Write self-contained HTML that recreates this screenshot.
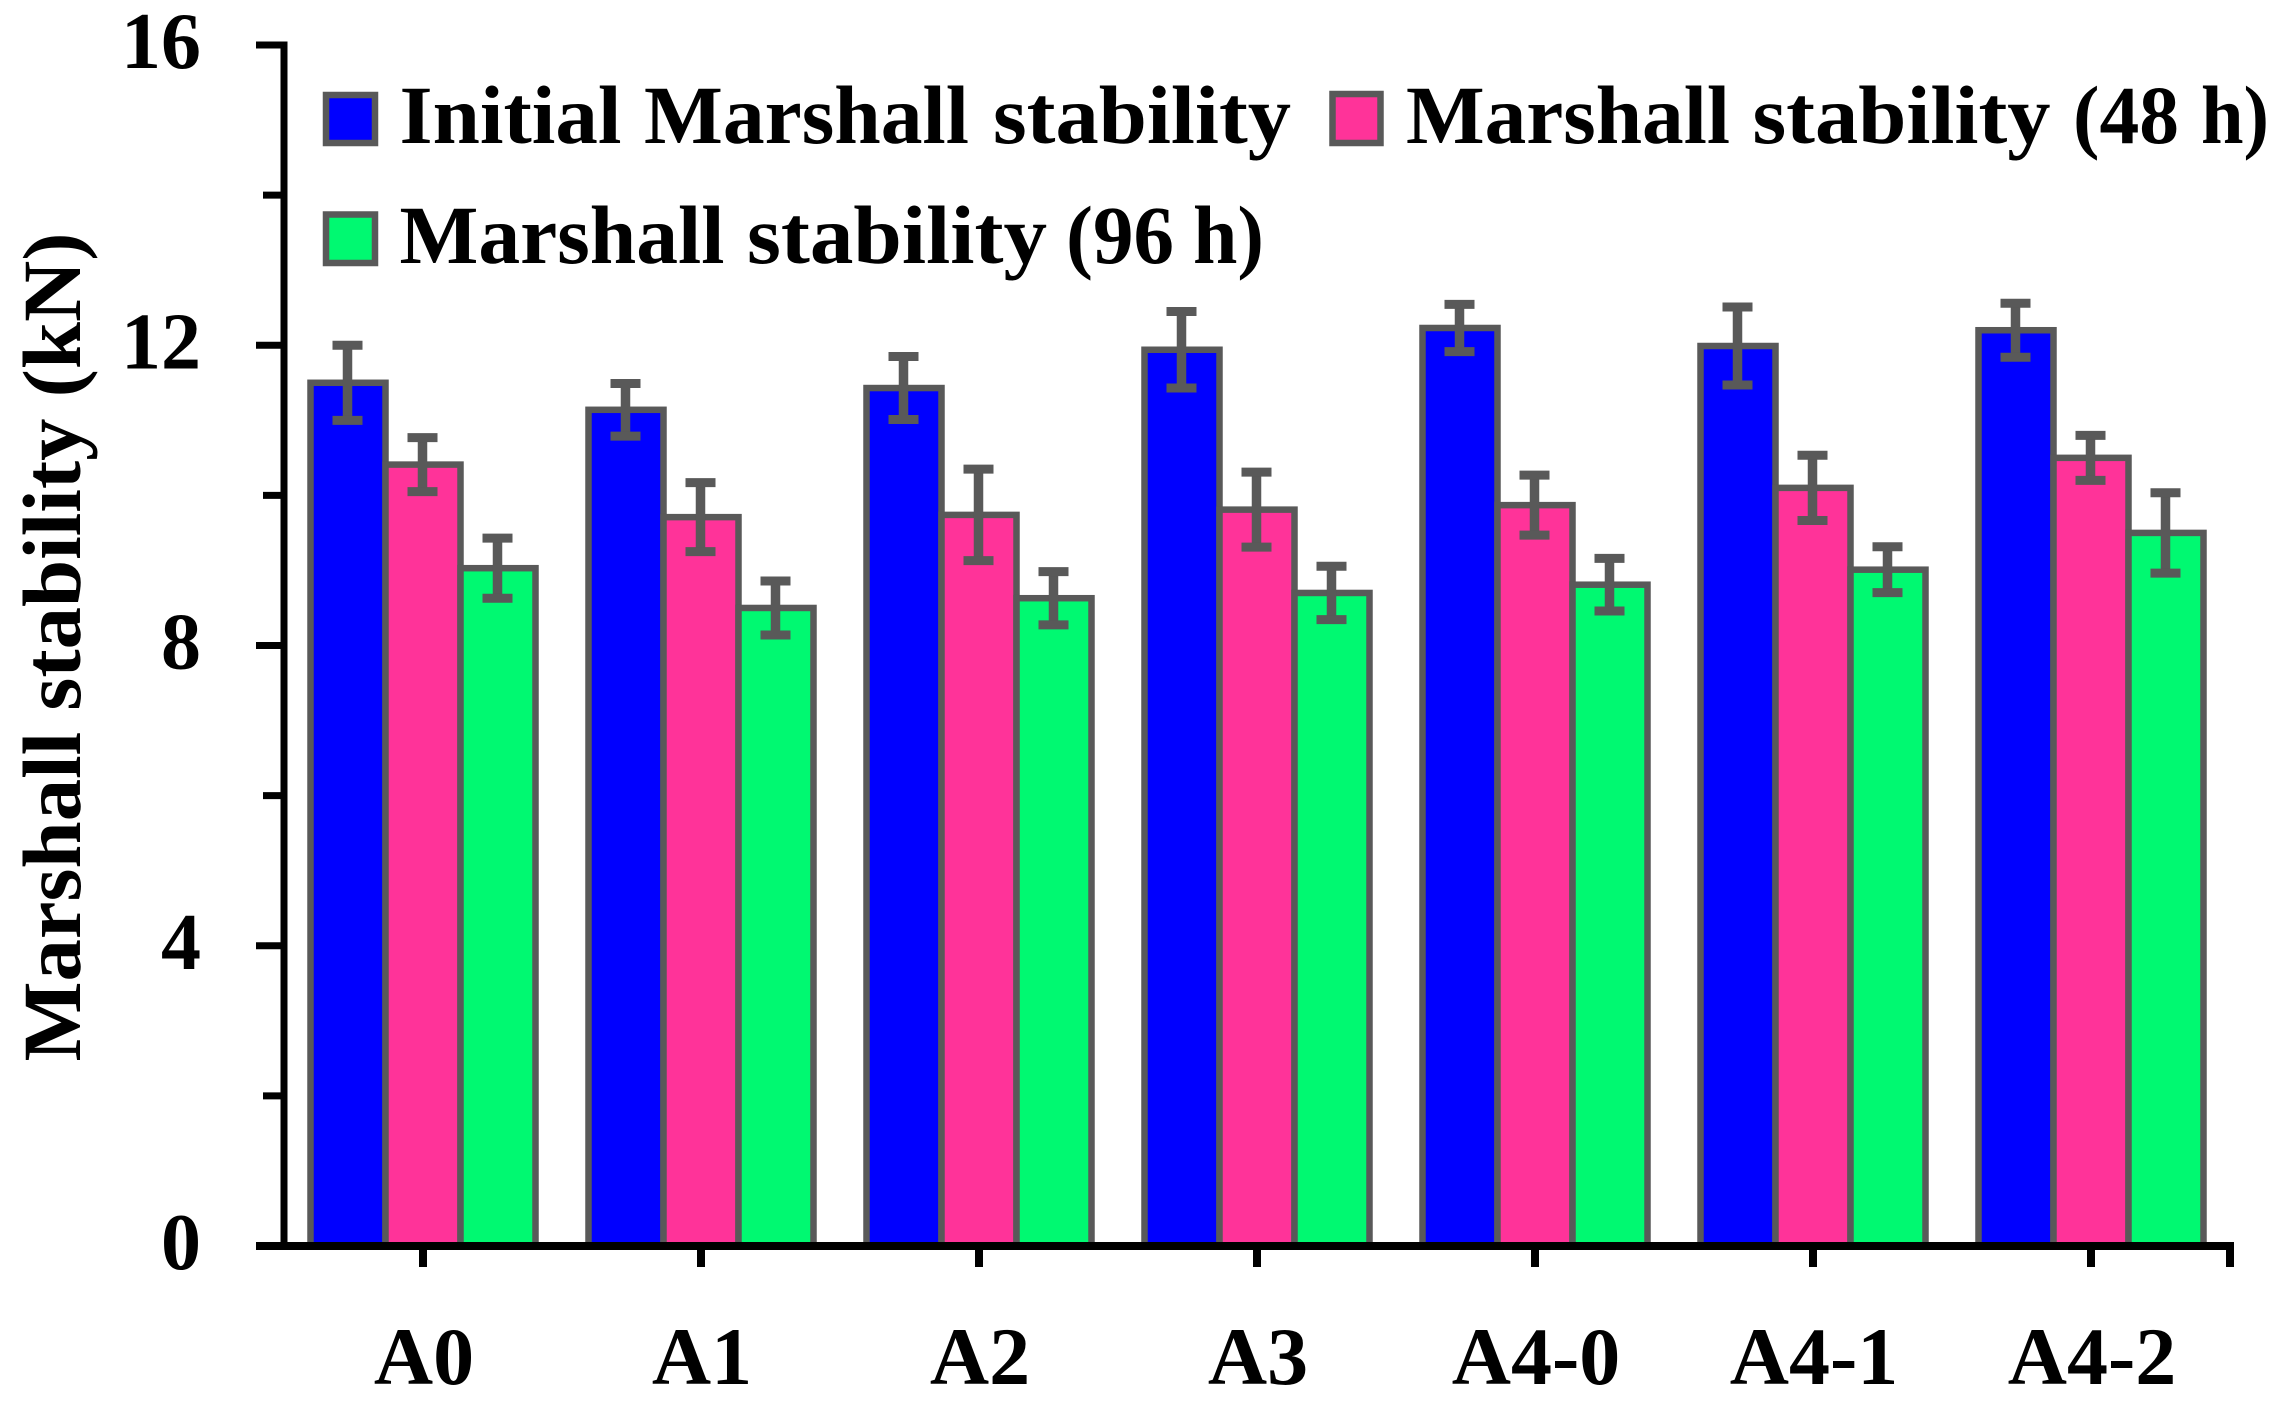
<!DOCTYPE html>
<html lang="en">
<head>
<meta charset="utf-8">
<title>Marshall stability chart</title>
<style>
  html, body { margin: 0; padding: 0; background: #fff; }
  svg { display: block; }
  text { font-family: "Liberation Serif", "Times New Roman", serif; font-weight: bold; fill: #000; }
</style>
</head>
<body>
<svg id="chart" xmlns="http://www.w3.org/2000/svg" width="2291" height="1410" viewBox="0 0 2291 1410">
  <rect x="0" y="0" width="2291" height="1410" fill="#ffffff"/>
  <g id="bars"></g>
  <g id="errors"></g>
  <g id="axes"></g>
  <g>
    <g>
      <rect x="326" y="95" width="49" height="48" fill="#0000ff" stroke="#595959" stroke-width="6.500"/>
      <text y="143" font-size="83"><tspan x="399.500" textLength="222" lengthAdjust="spacingAndGlyphs">Initial</tspan> <tspan x="644" textLength="325" lengthAdjust="spacingAndGlyphs">Marshall</tspan> <tspan x="993" textLength="298" lengthAdjust="spacingAndGlyphs">stability</tspan></text>
    </g>
    <g>
      <rect x="1332.500" y="94" width="48" height="49" fill="#ff3399" stroke="#595959" stroke-width="6.500"/>
      <text y="143" font-size="83"><tspan x="1406" textLength="324" lengthAdjust="spacingAndGlyphs">Marshall</tspan> <tspan x="1752.500" textLength="298" lengthAdjust="spacingAndGlyphs">stability</tspan> <tspan x="2073" textLength="106" lengthAdjust="spacingAndGlyphs">(48</tspan> <tspan x="2201" textLength="68" lengthAdjust="spacingAndGlyphs">h)</tspan></text>
    </g>
    <g>
      <rect x="326" y="214.500" width="49" height="48.500" fill="#00f971" stroke="#595959" stroke-width="6.500"/>
      <text y="263" font-size="83"><tspan x="399.500" textLength="325" lengthAdjust="spacingAndGlyphs">Marshall</tspan> <tspan x="747" textLength="300" lengthAdjust="spacingAndGlyphs">stability</tspan> <tspan x="1066" textLength="108" lengthAdjust="spacingAndGlyphs">(96</tspan> <tspan x="1193" textLength="71" lengthAdjust="spacingAndGlyphs">h)</tspan></text>
    </g>
  </g>
  <text transform="translate(80 647) rotate(-90)" text-anchor="middle" font-size="83" textLength="829" lengthAdjust="spacingAndGlyphs">Marshall stability (kN)</text>
</svg>
<script>
const categories = ["A0", "A1", "A2", "A3", "A4-0", "A4-1", "A4-2"];
const seriesNames = ["initial", "48h", "96h"];
const initialValues = [11.50, 11.14, 11.43, 11.94, 12.23, 11.99, 12.20];
const h48Values = [10.41, 9.71, 9.74, 9.81, 9.87, 10.10, 10.50];
const h96Values = [9.03, 8.50, 8.63, 8.70, 8.81, 9.01, 9.50];
const initialErrors = [0.50, 0.35, 0.42, 0.51, 0.315, 0.52, 0.36];
const h48Errors = [0.36, 0.46, 0.61, 0.50, 0.40, 0.435, 0.30];
const h96Errors = [0.40, 0.36, 0.355, 0.355, 0.35, 0.305, 0.535];
const yMajorTicks = [0, 4, 8, 12, 16];
const yMinorTicks = [2, 6, 10, 14];

const NS = "http://www.w3.org/2000/svg";
const GREY = "#595959";
const seriesValues = [initialValues, h48Values, h96Values];
const seriesErrors = [initialErrors, h48Errors, h96Errors];
const seriesColors = ["#0000ff", "#ff3399", "#00f971"];

const PLOT_LEFT = 284;
const PLOT_RIGHT = 2230;
const PLOT_BOTTOM = 1246;
const PLOT_TOP = 45;
const Y_MAX = 16;
const BAR_W = 75;
const CAP_W = 30;

function yScale(v) {
  return PLOT_BOTTOM - (v / Y_MAX) * (PLOT_BOTTOM - PLOT_TOP);
}
function xBand(i) {
  return PLOT_LEFT + (i + 0.5) * (PLOT_RIGHT - PLOT_LEFT) / categories.length;
}
function make(tag, attrs, parent) {
  const el = document.createElementNS(NS, tag);
  for (const k in attrs) el.setAttribute(k, attrs[k]);
  parent.appendChild(el);
  return el;
}

const barsLayer = document.getElementById("bars");
const errorsLayer = document.getElementById("errors");
const axesLayer = document.getElementById("axes");

categories.forEach(function (cat, i) {
  seriesValues.forEach(function (vals, s) {
    const left = xBand(i) + (s - 1.5) * BAR_W;
    const top = yScale(vals[i]);
    const bar = make("rect", {
      x: left, y: top, width: BAR_W, height: PLOT_BOTTOM - top,
      fill: seriesColors[s], stroke: GREY, "stroke-width": 6.5
    }, barsLayer);
    
    
    bar.setAttribute('data-category', cat);
    bar.setAttribute('data-series', seriesNames[s]);

    const cx = left + BAR_W / 2 - 0.5;
    const hi = yScale(vals[i] + seriesErrors[s][i]);
    const lo = yScale(vals[i] - seriesErrors[s][i]);
    const stem = make("line", { x1: cx, x2: cx, y1: hi, y2: lo, stroke: GREY, "stroke-width": 9.5 }, errorsLayer);
    
    
    const capTop = make("line", { x1: cx - CAP_W / 2, x2: cx + CAP_W / 2, y1: hi, y2: hi, stroke: GREY, "stroke-width": 9 }, errorsLayer);
    
    
    const capBottom = make("line", { x1: cx - CAP_W / 2, x2: cx + CAP_W / 2, y1: lo, y2: lo, stroke: GREY, "stroke-width": 9 }, errorsLayer);
    
    
  });
});

const yAxis = make("line", { x1: PLOT_LEFT, x2: PLOT_LEFT, y1: PLOT_TOP - 3.5, y2: PLOT_BOTTOM, stroke: "#000", "stroke-width": 7 }, axesLayer);



const xAxis = make("line", { x1: 256, x2: PLOT_RIGHT + 4, y1: PLOT_BOTTOM, y2: PLOT_BOTTOM, stroke: "#000", "stroke-width": 8 }, axesLayer);



yMajorTicks.forEach(function (t) {
  const y = yScale(t);
  if (t !== 0) {
    const tick = make("line", { x1: 256, x2: PLOT_LEFT, y1: y, y2: y, stroke: "#000", "stroke-width": 7 }, axesLayer);
    
    
  }
  const label = make("text", { x: 201, y: y + 23, "text-anchor": "end", "font-size": 80 }, axesLayer);
  label.textContent = String(t);
  
  
});

yMinorTicks.forEach(function (t) {
  const y = yScale(t);
  const tick = make("line", { x1: 263, x2: PLOT_LEFT, y1: y, y2: y, stroke: "#000", "stroke-width": 7 }, axesLayer);
  
  
});

categories.forEach(function (cat, i) {
  const x = xBand(i);
  const tick = make("line", { x1: x, x2: x, y1: PLOT_BOTTOM, y2: 1267, stroke: "#000", "stroke-width": 8 }, axesLayer);
  
  
  const label = make("text", { x: x + 1, y: 1384, "text-anchor": "middle", "font-size": 82 }, axesLayer);
  label.textContent = cat;
  
  
});

const endTick = make("line", { x1: PLOT_RIGHT, x2: PLOT_RIGHT, y1: PLOT_BOTTOM - 3, y2: 1267, stroke: "#000", "stroke-width": 8 }, axesLayer);


</script>
</body>
</html>
